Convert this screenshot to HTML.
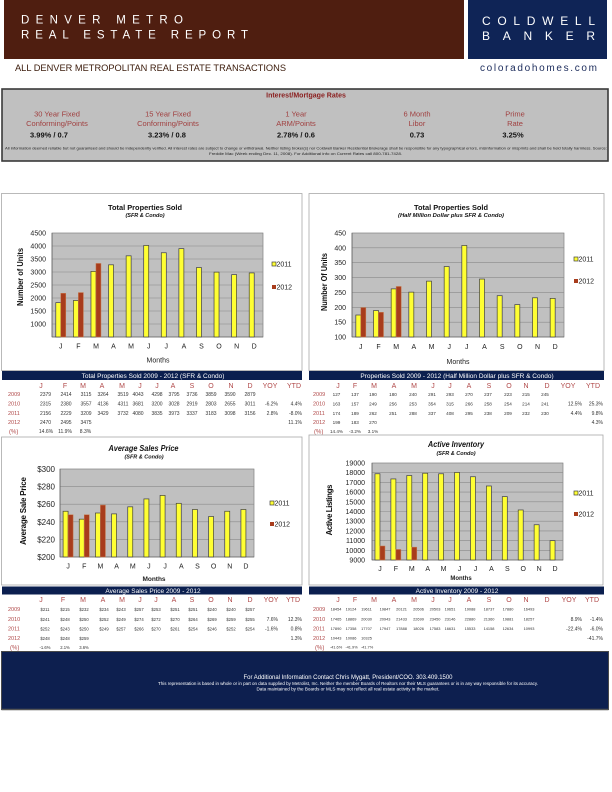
<!DOCTYPE html>
<html><head><meta charset="utf-8"><style>
html,body{margin:0;padding:0;background:#fff}
svg{display:block}
text{font-family:"Liberation Sans",Arial,sans-serif}
.v{font-size:5px;fill:#333;text-anchor:middle}
.v2{font-size:4.6px;fill:#333;text-anchor:middle}
.v3{font-size:4.2px;fill:#333;text-anchor:middle}
.v4{font-size:3.9px;fill:#333;text-anchor:middle}
.yr{font-size:5.5px;fill:#b04848}
.mh{font-size:7px;fill:#b04848;text-anchor:middle}
.r{font-size:5px;fill:#333;text-anchor:end}
.tk{font-size:7px;fill:#222;text-anchor:end}
.xl{font-size:7px;fill:#222;text-anchor:middle}
.lg{font-size:7px;fill:#222}
.b11{fill:#ffff33;stroke:#404040;stroke-width:0.7}
.b12{fill:#a83c1c;stroke:#c8784a;stroke-width:0.5}
.grid{stroke:#8a8a8a;stroke-width:0.6}
.th{font-size:6.5px;fill:#fff;text-anchor:middle}
</style></head><body>
<svg width="612" height="792" viewBox="0 0 612 792" xmlns="http://www.w3.org/2000/svg">
<!-- Header -->
<rect x="4" y="0" width="460" height="59" fill="#4f1e10"/>
<rect x="468" y="0" width="139" height="59" fill="#0f2456"/>
<text x="21" y="23.5" font-size="11.5" fill="#fff" textLength="162" lengthAdjust="spacing">DENVER METRO</text>
<text x="21" y="38.3" font-size="11.5" fill="#fff" textLength="227" lengthAdjust="spacing">REAL ESTATE REPORT</text>
<text x="482" y="25" font-size="12" fill="#fff" textLength="113" lengthAdjust="spacing">COLDWELL</text>
<text x="482" y="40" font-size="12" fill="#fff" textLength="113" lengthAdjust="spacing">BANKER</text>
<text x="15" y="71" font-size="9.5" fill="#3a1a0a" textLength="271" lengthAdjust="spacingAndGlyphs">ALL DENVER METROPOLITAN REAL ESTATE TRANSACTIONS</text>
<text x="480" y="71" font-size="10" fill="#1a2a5a" textLength="117" lengthAdjust="spacing">coloradohomes.com</text>

<!-- Rates box -->
<rect x="2" y="89" width="606" height="72" fill="#c0c0c0" stroke="#3a3a3a" stroke-width="1.6"/>
<text x="306" y="97.5" font-size="7" font-weight="bold" fill="#8b2020" text-anchor="middle">Interest/Mortgage Rates</text>
<g font-size="7.5" fill="#a04040" text-anchor="middle">
<text x="57" y="116.5">30 Year Fixed</text><text x="57" y="126">Conforming/Points</text>
<text x="168" y="116.5">15 Year Fixed</text><text x="168" y="126">Conforming/Points</text>
<text x="296" y="116.5">1 Year</text><text x="296" y="126">ARM/Points</text>
<text x="417" y="116.5">6 Month</text><text x="417" y="126">Libor</text>
<text x="515" y="116.5">Prime</text><text x="515" y="126">Rate</text>
</g>
<g font-size="7.5" font-weight="bold" fill="#111" text-anchor="middle">
<text x="49" y="137.5">3.99% / 0.7</text>
<text x="167" y="137.5">3.23% / 0.8</text>
<text x="296" y="137.5">2.78% / 0.6</text>
<text x="417" y="137.5">0.73</text>
<text x="513" y="137.5">3.25%</text>
</g>
<text x="5" y="149.5" font-size="4" fill="#222" textLength="602" lengthAdjust="spacingAndGlyphs">All information deemed reliable but not guaranteed and should be independently verified. All interest rates are subject to change or withdrawal. Neither listing broker(s) nor Coldwell Banker Residential Brokerage shall be responsible for any typographical errors, misinformation or misprints and shall be held totally harmless. Source:</text>
<text x="209" y="155" font-size="4" fill="#222" textLength="193" lengthAdjust="spacingAndGlyphs">Freddie Mac (Week ending Dec. 11, 2008). For Additional info on Current Rates call 800-781-7428.</text>

<!-- ================= CHART 1 ================= -->
<rect x="1.5" y="193.5" width="300.5" height="177" fill="#fff" stroke="#a8a8a8" stroke-width="0.8"/>
<text x="145" y="210" font-size="7.5" font-weight="bold" fill="#111" text-anchor="middle" textLength="74" lengthAdjust="spacingAndGlyphs">Total Properties Sold</text>
<text x="145" y="217" font-size="5.5" font-weight="bold" font-style="italic" fill="#111" text-anchor="middle">(SFR &amp; Condo)</text>
<rect x="52" y="233" width="211" height="104" fill="#c0c0c0" stroke="#808080" stroke-width="0.7"/>
<g class="grid"><line x1="52" x2="263" y1="246" y2="246"/><line x1="52" x2="263" y1="259" y2="259"/><line x1="52" x2="263" y1="272" y2="272"/><line x1="52" x2="263" y1="285" y2="285"/><line x1="52" x2="263" y1="298" y2="298"/><line x1="52" x2="263" y1="311" y2="311"/><line x1="52" x2="263" y1="324" y2="324"/></g>
<g class="tk"><text x="46" y="235.5">4500</text><text x="46" y="248.5">4000</text><text x="46" y="261.5">3500</text><text x="46" y="274.5">3000</text><text x="46" y="287.5">2500</text><text x="46" y="300.5">2000</text><text x="46" y="313.5">1500</text><text x="46" y="326.5">1000</text></g>
<g stroke="#555" stroke-width="0.6"><line x1="52" y1="233" x2="52" y2="337"/><line x1="52" y1="337" x2="263" y2="337"/></g>
<g class="b11">
<rect x="55.79" y="302.65" width="5" height="34.35"/><rect x="73.38" y="300.48" width="5" height="36.52"/><rect x="90.96" y="271.36" width="5" height="65.64"/><rect x="108.54" y="264.82" width="5" height="72.18"/><rect x="126.13" y="255.82" width="5" height="81.18"/><rect x="143.71" y="245.48" width="5" height="91.52"/><rect x="161.29" y="252.76" width="5" height="84.24"/><rect x="178.88" y="248.66" width="5" height="88.34"/><rect x="196.46" y="267.56" width="5" height="69.44"/><rect x="214.04" y="272.13" width="5" height="64.87"/><rect x="231.63" y="274.66" width="5" height="62.34"/><rect x="249.21" y="272.94" width="5" height="64.06"/>
</g>
<g class="b12"><rect x="60.79" y="293.32" width="5" height="43.68"/><rect x="78.38" y="292.58" width="5" height="44.42"/><rect x="95.96" y="263.46" width="5" height="73.54"/></g>
<g class="xl"><text x="60.8" y="348.5">J</text><text x="78.4" y="348.5">F</text><text x="96" y="348.5">M</text><text x="113.5" y="348.5">A</text><text x="131.1" y="348.5">M</text><text x="148.7" y="348.5">J</text><text x="166.3" y="348.5">J</text><text x="183.9" y="348.5">A</text><text x="201.5" y="348.5">S</text><text x="219" y="348.5">O</text><text x="236.6" y="348.5">N</text><text x="254.2" y="348.5">D</text></g>
<text x="158" y="362.5" font-size="7" fill="#222" text-anchor="middle">Months</text>
<text transform="translate(23,277) rotate(-90)" font-size="8" font-weight="bold" fill="#111" text-anchor="middle" textLength="58" lengthAdjust="spacingAndGlyphs">Number of Units</text>
<rect x="272" y="262" width="4" height="4" class="b11"/><text x="276.5" y="266.5" class="lg">2011</text>
<rect x="272" y="285" width="4" height="4" fill="#a83c1c"/><text x="276.5" y="289.5" class="lg">2012</text>

<!-- ================= CHART 2 ================= -->
<rect x="309" y="193.5" width="295" height="177" fill="#fff" stroke="#a8a8a8" stroke-width="0.8"/>
<text x="451" y="210" font-size="7.5" font-weight="bold" fill="#111" text-anchor="middle" textLength="74" lengthAdjust="spacingAndGlyphs">Total Properties Sold</text>
<text x="451" y="217" font-size="5.5" font-weight="bold" font-style="italic" fill="#111" text-anchor="middle" textLength="106" lengthAdjust="spacingAndGlyphs">(Half Million Dollar plus SFR &amp; Condo)</text>
<rect x="352" y="233" width="212" height="104" fill="#c0c0c0" stroke="#808080" stroke-width="0.7"/>
<g class="grid"><line x1="352" x2="564" y1="247.86" y2="247.86"/><line x1="352" x2="564" y1="262.71" y2="262.71"/><line x1="352" x2="564" y1="277.57" y2="277.57"/><line x1="352" x2="564" y1="292.43" y2="292.43"/><line x1="352" x2="564" y1="307.29" y2="307.29"/><line x1="352" x2="564" y1="322.14" y2="322.14"/></g>
<g class="tk"><text x="346" y="235.5">450</text><text x="346" y="250.4">400</text><text x="346" y="265.2">350</text><text x="346" y="280.1">300</text><text x="346" y="294.9">250</text><text x="346" y="309.8">200</text><text x="346" y="324.6">150</text><text x="346" y="339.5">100</text></g>
<g stroke="#555" stroke-width="0.6"><line x1="352" y1="233" x2="352" y2="337"/><line x1="352" y1="337" x2="564" y2="337"/></g>
<g class="b11">
<rect x="355.83" y="315.01" width="5" height="21.99"/><rect x="373.5" y="310.55" width="5" height="26.45"/><rect x="391.17" y="288.86" width="5" height="48.14"/><rect x="408.83" y="292.13" width="5" height="44.87"/><rect x="426.5" y="281.14" width="5" height="55.86"/><rect x="444.17" y="266.58" width="5" height="70.42"/><rect x="461.83" y="245.48" width="5" height="91.52"/><rect x="479.5" y="279.06" width="5" height="57.94"/><rect x="497.17" y="295.7" width="5" height="41.3"/><rect x="514.83" y="304.61" width="5" height="32.39"/><rect x="532.5" y="297.78" width="5" height="39.22"/><rect x="550.17" y="298.37" width="5" height="38.63"/>
</g>
<g class="b12"><rect x="360.83" y="307.58" width="5" height="29.42"/><rect x="378.5" y="312.34" width="5" height="24.66"/><rect x="396.17" y="286.49" width="5" height="50.51"/></g>
<g class="xl"><text x="360.8" y="349">J</text><text x="378.5" y="349">F</text><text x="396.2" y="349">M</text><text x="413.8" y="349">A</text><text x="431.5" y="349">M</text><text x="449.2" y="349">J</text><text x="466.8" y="349">J</text><text x="484.5" y="349">A</text><text x="502.2" y="349">S</text><text x="519.8" y="349">O</text><text x="537.5" y="349">N</text><text x="555.2" y="349">D</text></g>
<text x="458" y="364" font-size="7" fill="#222" text-anchor="middle">Months</text>
<text transform="translate(327,282) rotate(-90)" font-size="8" font-weight="bold" fill="#111" text-anchor="middle" textLength="58" lengthAdjust="spacingAndGlyphs">Number Of Units</text>
<rect x="574" y="257" width="4" height="4" class="b11"/><text x="578.5" y="261.5" class="lg">2011</text>
<rect x="574" y="279" width="4" height="4" fill="#a83c1c"/><text x="578.5" y="283.5" class="lg">2012</text>

<!-- ================= TABLE 1 ================= -->
<rect x="2" y="371" width="300" height="9" fill="#0b1f4f"/>
<text x="153" y="378" class="th">Total Properties Sold    2009 - 2012 (SFR &amp; Condo)</text>
<g class="mh"><text x="41" y="388">J</text><text x="65" y="388">F</text><text x="83" y="388">M</text><text x="102" y="388">A</text><text x="122" y="388">M</text><text x="140" y="388">J</text><text x="157" y="388">J</text><text x="173" y="388">A</text><text x="192" y="388">S</text><text x="211" y="388">O</text><text x="231" y="388">N</text><text x="250" y="388">D</text><text x="270" y="388">YOY</text><text x="294" y="388">YTD</text></g>
<g class="yr"><text x="8" y="396">2009</text><text x="8" y="405.5">2010</text><text x="8" y="415">2011</text><text x="8" y="424">2012</text><text x="9" y="433.5" font-size="6">(%)</text></g>
<g class="v">
<text x="45.5" y="396">2379</text><text x="66" y="396">2414</text><text x="86" y="396">3115</text><text x="103" y="396">3264</text><text x="123" y="396">3519</text><text x="138" y="396">4043</text><text x="157" y="396">4298</text><text x="174" y="396">3795</text><text x="192" y="396">3736</text><text x="211" y="396">3859</text><text x="230" y="396">3590</text><text x="250" y="396">2879</text>
<text x="45.5" y="405.5">2315</text><text x="66" y="405.5">2380</text><text x="86" y="405.5">3557</text><text x="103" y="405.5">4136</text><text x="123" y="405.5">4311</text><text x="138" y="405.5">3681</text><text x="157" y="405.5">3200</text><text x="174" y="405.5">3028</text><text x="192" y="405.5">2919</text><text x="211" y="405.5">2803</text><text x="230" y="405.5">2655</text><text x="250" y="405.5">3011</text>
<text x="45.5" y="415">2156</text><text x="66" y="415">2229</text><text x="86" y="415">3209</text><text x="103" y="415">3429</text><text x="123" y="415">3732</text><text x="138" y="415">4080</text><text x="157" y="415">3835</text><text x="174" y="415">3973</text><text x="192" y="415">3337</text><text x="211" y="415">3183</text><text x="230" y="415">3098</text><text x="250" y="415">3156</text>
<text x="45.5" y="424">2470</text><text x="66" y="424">2495</text><text x="86" y="424">3475</text>
<text x="46" y="433">14.6%</text><text x="65" y="433">11.9%</text><text x="85.5" y="433">8.3%</text>
</g>
<g class="r"><text x="278" y="405.5">-6.2%</text><text x="302" y="405.5">4.4%</text><text x="278" y="415">2.8%</text><text x="302" y="415">-8.0%</text><text x="302" y="424">11.1%</text></g>

<!-- ================= TABLE 2 ================= -->
<rect x="309" y="371" width="295" height="9" fill="#0b1f4f"/>
<text x="457" y="378" class="th">Properties Sold    2009 - 2012 (Half Million Dollar plus SFR &amp; Condo)</text>
<g class="mh"><text x="338" y="388">J</text><text x="355" y="388">F</text><text x="374" y="388">M</text><text x="394" y="388">A</text><text x="414" y="388">M</text><text x="433" y="388">J</text><text x="450" y="388">J</text><text x="469" y="388">A</text><text x="489" y="388">S</text><text x="509" y="388">O</text><text x="526" y="388">N</text><text x="547" y="388">D</text><text x="568" y="388">YOY</text><text x="593" y="388">YTD</text></g>
<g class="yr"><text x="313" y="396">2009</text><text x="313" y="405.5">2010</text><text x="313" y="415">2011</text><text x="313" y="424">2012</text><text x="314" y="433.5" font-size="6">(%)</text></g>
<g class="v2">
<text x="336.5" y="396">127</text><text x="355" y="396">137</text><text x="373" y="396">190</text><text x="393" y="396">180</text><text x="413" y="396">240</text><text x="432" y="396">291</text><text x="450" y="396">293</text><text x="469" y="396">270</text><text x="488" y="396">237</text><text x="508" y="396">223</text><text x="526" y="396">215</text><text x="545" y="396">245</text>
<text x="336.5" y="405.5">163</text><text x="355" y="405.5">157</text><text x="373" y="405.5">249</text><text x="393" y="405.5">256</text><text x="413" y="405.5">253</text><text x="432" y="405.5">354</text><text x="450" y="405.5">315</text><text x="469" y="405.5">266</text><text x="488" y="405.5">258</text><text x="508" y="405.5">254</text><text x="526" y="405.5">214</text><text x="545" y="405.5">241</text>
<text x="336.5" y="415">174</text><text x="355" y="415">189</text><text x="373" y="415">262</text><text x="393" y="415">251</text><text x="413" y="415">288</text><text x="432" y="415">337</text><text x="450" y="415">408</text><text x="469" y="415">295</text><text x="488" y="415">238</text><text x="508" y="415">209</text><text x="526" y="415">232</text><text x="545" y="415">230</text>
<text x="336.5" y="424">199</text><text x="355" y="424">183</text><text x="373" y="424">270</text>
<text x="336.5" y="433">14.4%</text><text x="355" y="433">-3.2%</text><text x="373" y="433">3.1%</text>
</g>
<g class="r"><text x="582" y="405.5">12.5%</text><text x="603" y="405.5">25.3%</text><text x="582" y="415">4.4%</text><text x="603" y="415">9.8%</text><text x="603" y="424">4.3%</text></g>

<!-- ================= CHART 3 ================= -->
<rect x="1.5" y="437" width="300.5" height="148" fill="#fff" stroke="#a8a8a8" stroke-width="0.8"/>
<text x="143.5" y="451" font-size="8" font-weight="bold" font-style="italic" fill="#111" text-anchor="middle" textLength="70" lengthAdjust="spacingAndGlyphs">Average Sales Price</text>
<text x="144" y="458.5" font-size="5.5" font-weight="bold" font-style="italic" fill="#111" text-anchor="middle">(SFR &amp; Condo)</text>
<rect x="60" y="469" width="194" height="88" fill="#c0c0c0" stroke="#808080" stroke-width="0.7"/>
<g class="grid"><line x1="60" x2="254" y1="486.6" y2="486.6"/><line x1="60" x2="254" y1="504.2" y2="504.2"/><line x1="60" x2="254" y1="521.8" y2="521.8"/><line x1="60" x2="254" y1="539.4" y2="539.4"/></g>
<g class="tk"><text x="55" y="472" font-size="8">$300</text><text x="55" y="489.6" font-size="8">$280</text><text x="55" y="507.2" font-size="8">$260</text><text x="55" y="524.8" font-size="8">$240</text><text x="55" y="542.4" font-size="8">$220</text><text x="55" y="560" font-size="8">$200</text></g>
<g stroke="#555" stroke-width="0.6"><line x1="60" y1="469" x2="60" y2="557"/><line x1="60" y1="557" x2="254" y2="557"/></g>
<g class="b11">
<rect x="63.08" y="511.24" width="5" height="45.76"/><rect x="79.25" y="519.16" width="5" height="37.84"/><rect x="95.42" y="513" width="5" height="44"/><rect x="111.58" y="513.88" width="5" height="43.12"/><rect x="127.75" y="506.84" width="5" height="50.16"/><rect x="143.92" y="498.92" width="5" height="58.08"/><rect x="160.08" y="495.4" width="5" height="61.6"/><rect x="176.25" y="503.32" width="5" height="53.68"/><rect x="192.42" y="509.48" width="5" height="47.52"/><rect x="208.58" y="516.52" width="5" height="40.48"/><rect x="224.75" y="511.24" width="5" height="45.76"/><rect x="240.92" y="509.48" width="5" height="47.52"/>
</g>
<g class="b12"><rect x="68.08" y="514.76" width="5" height="42.24"/><rect x="84.25" y="514.76" width="5" height="42.24"/><rect x="100.42" y="505.08" width="5" height="51.92"/></g>
<g class="xl"><text x="68.1" y="568.5">J</text><text x="84.3" y="568.5">F</text><text x="100.4" y="568.5">M</text><text x="116.6" y="568.5">A</text><text x="132.8" y="568.5">M</text><text x="148.9" y="568.5">J</text><text x="165.1" y="568.5">J</text><text x="181.3" y="568.5">A</text><text x="197.4" y="568.5">S</text><text x="213.6" y="568.5">O</text><text x="229.8" y="568.5">N</text><text x="245.9" y="568.5">D</text></g>
<text x="154" y="581" font-size="6.5" font-weight="bold" fill="#222" text-anchor="middle">Months</text>
<text transform="translate(26,511) rotate(-90)" font-size="8" font-weight="bold" fill="#111" text-anchor="middle" textLength="68" lengthAdjust="spacing">Average Sale Price</text>
<rect x="270" y="501" width="4" height="4" class="b11"/><text x="274.5" y="505.5" class="lg">2011</text>
<rect x="270" y="522" width="4" height="4" fill="#a83c1c"/><text x="274.5" y="526.5" class="lg">2012</text>

<!-- ================= CHART 4 ================= -->
<rect x="309" y="435" width="294" height="150" fill="#fff" stroke="#a8a8a8" stroke-width="0.8"/>
<text x="456" y="447" font-size="8" font-weight="bold" font-style="italic" fill="#111" text-anchor="middle" textLength="56" lengthAdjust="spacingAndGlyphs">Active Inventory</text>
<text x="456" y="455" font-size="5.5" font-weight="bold" font-style="italic" fill="#111" text-anchor="middle">(SFR &amp; Condo)</text>
<rect x="372" y="463" width="191" height="97" fill="#c0c0c0" stroke="#808080" stroke-width="0.7"/>
<g class="grid"><line x1="372" x2="563" y1="472.7" y2="472.7"/><line x1="372" x2="563" y1="482.4" y2="482.4"/><line x1="372" x2="563" y1="492.1" y2="492.1"/><line x1="372" x2="563" y1="501.8" y2="501.8"/><line x1="372" x2="563" y1="511.5" y2="511.5"/><line x1="372" x2="563" y1="521.2" y2="521.2"/><line x1="372" x2="563" y1="530.9" y2="530.9"/><line x1="372" x2="563" y1="540.6" y2="540.6"/><line x1="372" x2="563" y1="550.3" y2="550.3"/></g>
<g class="tk"><text x="365" y="465.5">19000</text><text x="365" y="475.2">18000</text><text x="365" y="484.9">17000</text><text x="365" y="494.6">16000</text><text x="365" y="504.3">15000</text><text x="365" y="514">14000</text><text x="365" y="523.7">13000</text><text x="365" y="533.4">12000</text><text x="365" y="543.1">11000</text><text x="365" y="552.8">10000</text><text x="365" y="562.5">9000</text></g>
<g stroke="#555" stroke-width="0.6"><line x1="372" y1="463" x2="372" y2="560"/><line x1="372" y1="560" x2="563" y2="560"/></g>
<g class="b11">
<rect x="374.96" y="473.77" width="5" height="86.23"/><rect x="390.88" y="478.93" width="5" height="81.07"/><rect x="406.79" y="475.54" width="5" height="84.46"/><rect x="422.71" y="473.21" width="5" height="86.79"/><rect x="438.63" y="473.79" width="5" height="86.21"/><rect x="454.54" y="472.45" width="5" height="87.55"/><rect x="470.46" y="476.74" width="5" height="83.26"/><rect x="486.38" y="485.98" width="5" height="74.02"/><rect x="502.29" y="496.63" width="5" height="63.37"/><rect x="518.21" y="509.97" width="5" height="50.03"/><rect x="534.13" y="524.75" width="5" height="35.25"/><rect x="550.04" y="540.67" width="5" height="19.33"/>
</g>
<g class="b12"><rect x="379.96" y="546" width="5" height="14"/><rect x="395.88" y="549.47" width="5" height="10.53"/><rect x="411.79" y="547.15" width="5" height="12.85"/></g>
<g class="xl"><text x="380" y="571">J</text><text x="395.9" y="571">F</text><text x="411.8" y="571">M</text><text x="427.7" y="571">A</text><text x="443.6" y="571">M</text><text x="459.5" y="571">J</text><text x="475.5" y="571">J</text><text x="491.4" y="571">A</text><text x="507.3" y="571">S</text><text x="523.2" y="571">O</text><text x="539.1" y="571">N</text><text x="555" y="571">D</text></g>
<text x="461" y="580" font-size="6" font-weight="bold" fill="#222" text-anchor="middle">Months</text>
<text transform="translate(332,510) rotate(-90)" font-size="8" font-weight="bold" fill="#111" text-anchor="middle" textLength="51" lengthAdjust="spacing">Active Listings</text>
<rect x="574" y="491" width="4" height="4" class="b11"/><text x="578.5" y="495.5" class="lg">2011</text>
<rect x="574" y="512" width="4" height="4" fill="#a83c1c"/><text x="578.5" y="516.5" class="lg">2012</text>

<!-- ================= TABLE 3 ================= -->
<rect x="2" y="586.5" width="300" height="8" fill="#0b1f4f"/>
<text x="153" y="592.8" class="th" font-size="6">Average Sales Price    2009 - 2012</text>
<g class="mh"><text x="41" y="602">J</text><text x="63" y="602">F</text><text x="83" y="602">M</text><text x="103" y="602">A</text><text x="122" y="602">M</text><text x="140" y="602">J</text><text x="156" y="602">J</text><text x="174" y="602">A</text><text x="192" y="602">S</text><text x="211" y="602">O</text><text x="230" y="602">N</text><text x="250" y="602">D</text><text x="271" y="602">YOY</text><text x="293" y="602">YTD</text></g>
<g class="yr"><text x="8" y="611">2009</text><text x="8" y="621">2010</text><text x="8" y="630.5">2011</text><text x="8" y="640">2012</text><text x="10" y="649.5" font-size="6">(%)</text></g>
<g class="v3">
<text x="45" y="611">$211</text><text x="65" y="611">$215</text><text x="84" y="611">$232</text><text x="104" y="611">$234</text><text x="121" y="611">$243</text><text x="139" y="611">$257</text><text x="156" y="611">$253</text><text x="175" y="611">$251</text><text x="193" y="611">$251</text><text x="212" y="611">$240</text><text x="231" y="611">$240</text><text x="250" y="611">$257</text>
<text x="45" y="621">$241</text><text x="65" y="621">$248</text><text x="84" y="621">$250</text><text x="104" y="621">$252</text><text x="121" y="621">$249</text><text x="139" y="621">$274</text><text x="156" y="621">$272</text><text x="175" y="621">$270</text><text x="193" y="621">$264</text><text x="212" y="621">$269</text><text x="231" y="621">$259</text><text x="250" y="621">$255</text>
<text x="45" y="630.5">$252</text><text x="65" y="630.5">$243</text><text x="84" y="630.5">$250</text><text x="104" y="630.5">$249</text><text x="121" y="630.5">$257</text><text x="139" y="630.5">$266</text><text x="156" y="630.5">$270</text><text x="175" y="630.5">$261</text><text x="193" y="630.5">$254</text><text x="212" y="630.5">$246</text><text x="231" y="630.5">$252</text><text x="250" y="630.5">$254</text>
<text x="45" y="640">$248</text><text x="65" y="640">$248</text><text x="84" y="640">$259</text>
<text x="45" y="649">-1.6%</text><text x="65" y="649">2.1%</text><text x="84" y="649">3.6%</text>
</g>
<g class="r"><text x="278" y="621">7.6%</text><text x="302" y="621">12.3%</text><text x="278" y="630.5">-1.6%</text><text x="302" y="630.5">0.8%</text><text x="302" y="640">1.3%</text></g>

<!-- ================= TABLE 4 ================= -->
<rect x="309" y="586.5" width="295" height="8" fill="#0b1f4f"/>
<text x="457" y="592.8" class="th" font-size="6">Active Inventory    2009 - 2012</text>
<g class="mh"><text x="338" y="602">J</text><text x="355" y="602">F</text><text x="374" y="602">M</text><text x="394" y="602">A</text><text x="414" y="602">M</text><text x="433" y="602">J</text><text x="450" y="602">J</text><text x="469" y="602">A</text><text x="489" y="602">S</text><text x="509" y="602">O</text><text x="526" y="602">N</text><text x="547" y="602">D</text><text x="569" y="602">YOY</text><text x="592" y="602">YTD</text></g>
<g class="yr"><text x="313" y="611">2009</text><text x="313" y="621">2010</text><text x="313" y="630.5">2011</text><text x="313" y="640">2012</text><text x="315" y="649.5" font-size="6">(%)</text></g>
<g class="v4">
<text x="336" y="610.5">18454</text><text x="351" y="610.5">19124</text><text x="366.5" y="610.5">19611</text><text x="385" y="610.5">19847</text><text x="401.5" y="610.5">20121</text><text x="418.5" y="610.5">20506</text><text x="435" y="610.5">20503</text><text x="450" y="610.5">19651</text><text x="470" y="610.5">19088</text><text x="489" y="610.5">18737</text><text x="508" y="610.5">17880</text><text x="529" y="610.5">16493</text>
<text x="336" y="620.5">17465</text><text x="351" y="620.5">18869</text><text x="366.5" y="620.5">20030</text><text x="385" y="620.5">20943</text><text x="401.5" y="620.5">21433</text><text x="418.5" y="620.5">22699</text><text x="435" y="620.5">23450</text><text x="450" y="620.5">23146</text><text x="470" y="620.5">22880</text><text x="489" y="620.5">21360</text><text x="508" y="620.5">19881</text><text x="529" y="620.5">18257</text>
<text x="336" y="630">17890</text><text x="351" y="630">17358</text><text x="366.5" y="630">17707</text><text x="385" y="630">17947</text><text x="401.5" y="630">17888</text><text x="418.5" y="630">18026</text><text x="435" y="630">17583</text><text x="450" y="630">16631</text><text x="470" y="630">15533</text><text x="489" y="630">14158</text><text x="508" y="630">12634</text><text x="529" y="630">10993</text>
<text x="336" y="639.5">10443</text><text x="351" y="639.5">10086</text><text x="366.5" y="639.5">10325</text>
<text x="336" y="648.5">-41.6%</text><text x="351.5" y="648.5">-41.9%</text><text x="367" y="648.5">-41.7%</text>
</g>
<g class="r"><text x="582" y="621">8.9%</text><text x="603" y="621">-1.4%</text><text x="582" y="630.5">-22.4%</text><text x="603" y="630.5">-6.0%</text><text x="603" y="640">-41.7%</text></g>

<!-- Footer -->
<rect x="1.5" y="651.5" width="607" height="58" fill="#0d1f4f" stroke="#4a4a4a" stroke-width="1"/>
<line x1="1.5" y1="709.5" x2="608.5" y2="709.5" stroke="#555" stroke-width="1.5"/>
<text x="348" y="679" font-size="6.5" fill="#fff" text-anchor="middle" textLength="209" lengthAdjust="spacingAndGlyphs">For Additional Information Contact Chris Mygatt, President/COO. 303.409.1500</text>
<text x="348" y="685" font-size="4.3" fill="#fff" text-anchor="middle" textLength="380" lengthAdjust="spacingAndGlyphs">This representation is based in whole or in part on data supplied by Metrolist, Inc. Neither the member Boards of Realtors nor their MLS guarantees or is in any way responsible for its accuracy.</text>
<text x="348" y="690.5" font-size="4.3" fill="#fff" text-anchor="middle" textLength="183" lengthAdjust="spacingAndGlyphs">Data maintained by the Boards or MLS may not reflect all real estate activity in the market.</text>
</svg>
</body></html>
